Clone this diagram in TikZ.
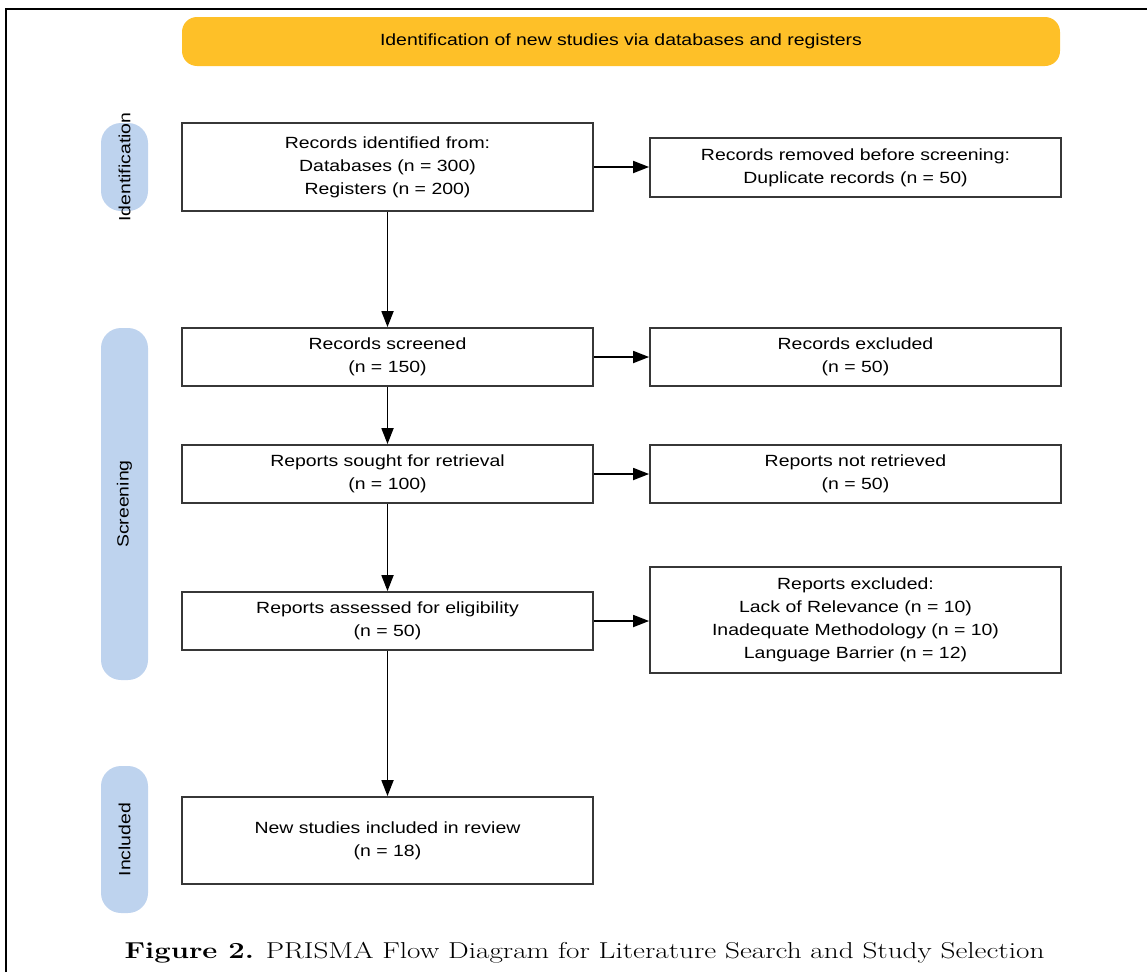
\documentclass[tikz,border=0pt]{standalone}
\usepackage{fontspec}
\usetikzlibrary{arrows.meta}
\newfontfamily\prismafont[FakeStretch=1.2]{Liberation Sans}
\newfontfamily\capfont[FakeStretch=1.27]{Latin Modern Roman}
\definecolor{bannery}{RGB}{254,192,40}
\definecolor{phaseblue}{RGB}{190,211,238}
\definecolor{boxgray}{RGB}{55,55,55}

\begin{document}
\begin{tikzpicture}[x=1pt, y=-1pt,
    box/.style={draw=boxgray, line width=1.8pt, fill=white, inner sep=0pt,
                minimum width=411pt, minimum height=58pt, align=center,
                font=\prismafont\fontsize{16.2}{23}\selectfont},
    phase/.style={fill=phaseblue, rounded corners=20pt, inner sep=0pt,
                  minimum width=47pt},
    phasetext/.style={rotate=90, font=\prismafont\fontsize{16.2}{19}\selectfont},
    arr/.style={line width=1.8pt, -{Triangle[length=16pt, width=12pt]}}]
    \useasboundingbox (0, 0) rectangle (1147, 972);

    % Frame
    \draw [line width=2.5pt] (6, 972) -- (6, 9) -- (1147, 9);

    % Banner
    \node [fill=bannery, rounded corners=15pt, minimum width=878pt,
           minimum height=49pt, font=\prismafont\fontsize{16.2}{19}\selectfont]
          (head) at (621, 41.5) {Identification of new studies via databases and registers};

    % Phases
    \node [phase, minimum height=88pt] (pid) at (124.5, 167) {};
    \node [phasetext] at (pid) {Identification};
    \node [phase, minimum height=352pt] (psc) at (124.5, 504) {};
    \node [phasetext] at (psc) {Screening};
    \node [phase, minimum height=147pt] (pin) at (124.5, 839.5) {};
    \node [phasetext] at (pin) {Included};

    % Identification
    \node [box, minimum height=88pt] (rec) at (387.5, 167)
          {Records identified from:\\Databases (n = 300)\\Registers (n = 200)};
    \node [box, minimum height=59pt] (rem) at (855.5, 167.5)
          {Records removed before screening:\\Duplicate records (n = 50)};

    % Screening
    \node [box] (scr) at (387.5, 357) {Records screened\\(n = 150)};
    \node [box] (exc) at (855.5, 357) {Records excluded\\(n = 50)};
    \node [box] (sou) at (387.5, 474) {Reports sought for retrieval\\(n = 100)};
    \node [box] (nre) at (855.5, 474) {Reports not retrieved\\(n = 50)};
    \node [box] (ass) at (387.5, 621) {Reports assessed for eligibility\\(n = 50)};
    \node [box, minimum height=106pt] (rex) at (855.5, 620)
          {Reports excluded:\\Lack of Relevance (n = 10)\\Inadequate Methodology (n = 10)\\Language Barrier (n = 12)};

    % Included
    \node [box, minimum height=87pt] (inc) at (387.5, 840.5)
          {New studies included in review\\(n = 18)};

    % Connections
    \draw [arr] (rec) -- (scr);
    \draw [arr] (scr) -- (sou);
    \draw [arr] (sou) -- (ass);
    \draw [arr] (ass) -- (inc);
    \draw [arr] (rec) -- (rec -| rem.west);
    \draw [arr] (scr) -- (exc);
    \draw [arr] (sou) -- (nre);
    \draw [arr] (ass) -- (ass -| rex.west);

    % Caption
    \node [anchor=base, font=\capfont\fontsize{23}{27}\selectfont] (cap)
          at (584.5, 958) {\textbf{Figure 2.} PRISMA Flow Diagram for Literature Search and Study Selection};
  \end{tikzpicture}
\end{document}
